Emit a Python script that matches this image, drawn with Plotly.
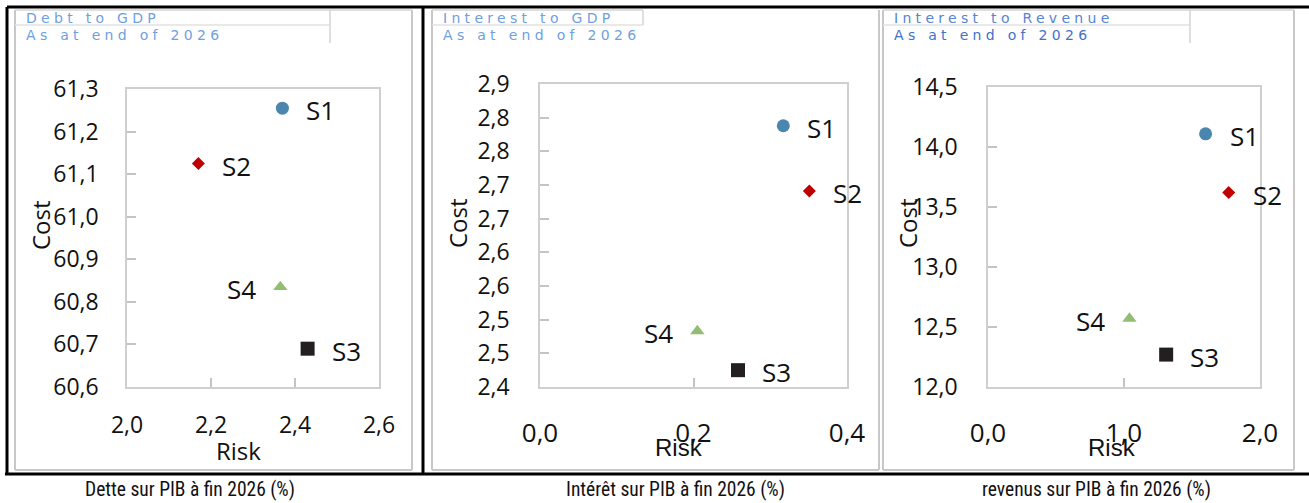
import plotly.graph_objects as go

W, H = 1309, 503

# Scenarios and their markers
scenarios = ["S1", "S2", "S3", "S4"]
symbols = ["circle", "diamond", "square", "triangle-up"]
sizes = [13, 10, 14, 12.5]
colors = ["#4a86ad", "#c00000", "#231f20", "#93bd72"]
label_side = ["right", "right", "right", "left"]

# Debt to GDP
debt_risk = [2.37, 2.17, 2.43, 2.365]
debt_cost = [61.255, 61.125, 60.69, 60.835]
# Interest to GDP
igdp_risk = [0.317, 0.351, 0.258, 0.205]
igdp_cost = [2.788, 2.691, 2.425, 2.483]
# Interest to revenue
irev_risk = [1.60, 1.77, 1.31, 1.04]
irev_cost = [14.11, 13.62, 12.27, 12.57]

# Axis ticks
debt_xticks = [2.0, 2.2, 2.4, 2.6]
debt_xlabels = ["2,0", "2,2", "2,4", "2,6"]
debt_yticks = [60.6, 60.7, 60.8, 60.9, 61.0, 61.1, 61.2, 61.3]
debt_ylabels = ["60,6", "60,7", "60,8", "60,9", "61,0", "61,1", "61,2", "61,3"]

igdp_xticks = [0.0, 0.2, 0.4]
igdp_xlabels = ["0,0", "0,2", "0,4"]
igdp_yticks = [2.40, 2.45, 2.50, 2.55, 2.60, 2.65, 2.70, 2.75, 2.80, 2.85]
igdp_ylabels = ["2,4", "2,5", "2,5", "2,6", "2,6", "2,7", "2,7", "2,8", "2,8", "2,9"]

irev_xticks = [0.0, 1.0, 2.0]
irev_xlabels = ["0,0", "1,0", "2,0"]
irev_yticks = [12.0, 12.5, 13.0, 13.5, 14.0, 14.5]
irev_ylabels = ["12,0", "12,5", "13,0", "13,5", "14,0", "14,5"]

headers = [["Debt to GDP", "As at end of 2026"],
           ["Interest to GDP", "As at end of 2026"],
           ["Interest to Revenue", "As at end of 2026"]]
captions = ["Dette sur PIB à fin 2026 (%)",
            "Intérêt sur PIB à fin 2026 (%)",
            "revenus sur PIB à fin 2026 (%)"]


def px(x):
    return x / W


def py(y):
    return 1 - y / H


FONT = "Open Sans, Noto Sans, sans-serif"
FRAME = "#cfcfcf"

# panel geometry in pixels: plot area left, right, top, bottom
panels = [
    dict(x=debt_risk, y=debt_cost, xr=[2.0, 2.6], yr=[60.6, 61.3],
         xt=debt_xticks, xl=debt_xlabels, yt=debt_yticks, yl=debt_ylabels,
         box=(127, 379, 89, 387), xstand=17, ystand=22, xfs=23),
    dict(x=igdp_risk, y=igdp_cost, xr=[0.0, 0.4], yr=[2.4, 2.85],
         xt=igdp_xticks, xl=igdp_xlabels, yt=igdp_yticks, yl=igdp_ylabels,
         box=(540, 847, 84, 387), xstand=22, ystand=24, xfs=26),
    dict(x=irev_risk, y=irev_cost, xr=[0.0, 2.0], yr=[12.0, 14.5],
         xt=irev_xticks, xl=irev_xlabels, yt=irev_yticks, yl=irev_ylabels,
         box=(988, 1260, 87, 387), xstand=22, ystand=24, xfs=26),
]

fig = go.Figure()
annotations = []
shapes = []

for i, p in enumerate(panels):
    n = "" if i == 0 else str(i + 1)
    xa, ya = "x" + n, "y" + n
    l, r, t, b = p["box"]
    fig.add_trace(go.Scatter(
        x=p["x"], y=p["y"], mode="markers", xaxis=xa, yaxis=ya,
        marker=dict(symbol=symbols, size=sizes, color=colors, opacity=1,
                    line=dict(width=0)),
        showlegend=False, hoverinfo="skip"))
    common = dict(showline=True, linecolor=FRAME, linewidth=1.5, mirror=True,
                  ticks="inside", ticklen=9, tickcolor="#c4c4c4", tickwidth=1.5,
                  showgrid=False, zeroline=False,
                  fixedrange=True, automargin=False)
    fig.update_layout(**{
        "xaxis" + n: dict(domain=[px(l), px(r)], range=p["xr"], anchor=ya,
                          tickvals=p["xt"], ticktext=p["xl"],
                          tickfont=dict(family=FONT, size=p["xfs"], color="#111111"),
                          ticklabelstandoff=p["xstand"], **common),
        "yaxis" + n: dict(domain=[py(b), py(t)], range=p["yr"], anchor=xa,
                          tickvals=p["yt"], ticktext=p["yl"],
                          tickfont=dict(family=FONT, size=23, color="#111111"),
                          ticklabelstandoff=p["ystand"], **common),
    })
    # scenario labels beside each marker
    for k, s in enumerate(scenarios):
        right = label_side[k] == "right"
        annotations.append(dict(
            x=p["x"][k], y=p["y"][k], xref=xa, yref=ya, text=s, showarrow=False,
            xanchor="left" if right else "right", yanchor="middle",
            xshift=22 if right else -22, yshift=-2,
            font=dict(family=FONT, size=26, color="#111111")))

# axis titles
title_font = dict(family=FONT, size=24, color="#111111")
title_font2 = dict(family="Liberation Sans, Arial, sans-serif", size=24, color="#111111")
for cx, cy, f in [(238, 450, title_font), (679, 447, title_font2), (1112, 447, title_font2)]:
    annotations.append(dict(x=px(cx), y=py(cy), xref="paper", yref="paper", text="Risk",
                            showarrow=False, xanchor="center", yanchor="middle", font=f))
for cx, cy, f in [(40, 225, title_font), (457, 223, title_font), (907, 223, title_font)]:
    annotations.append(dict(x=px(cx), y=py(cy), xref="paper", yref="paper", text="Cost",
                            showarrow=False, xanchor="center", yanchor="middle",
                            textangle=-90, font=f))

# bottom captions
cap_font = dict(family="Liberation Sans Narrow, Roboto Condensed, Lato, sans-serif",
                size=19.5, color="#111111")
for cx, c in zip([190, 675, 1096], captions):
    annotations.append(dict(x=px(cx), y=py(489), xref="paper", yref="paper", text=c,
                            showarrow=False, xanchor="center", yanchor="middle", font=cap_font))


def line(x0, y0, x1, y1, color, width):
    shapes.append(dict(type="line", xref="paper", yref="paper",
                       x0=px(x0), y0=py(y0), x1=px(x1), y1=py(y1),
                       line=dict(color=color, width=width)))


# grey panel frames
for (l, r) in [(15, 412), (432, 879), (883, 1294)]:
    line(l, 470, r, 470, "#c8c8c8", 2)
    line(l, 10, l, 470, "#c8c8c8", 2)
line(412, 10, 412, 470, "#c8c8c8", 2)
line(879, 10, 879, 470, "#c8c8c8", 2)
line(1294, 10, 1294, 470, "#c8c8c8", 2)
line(15, 10, 412, 10, "#d4d4d4", 1.5)
line(432, 10, 643, 10, "#d4d4d4", 1.5)
line(883, 10, 1294, 10, "#d4d4d4", 1.5)

# header boxes
hdr = [(15, 330, 43), (432, 643, 25), (883, 1190, 43)]
for (l, r, vb) in hdr:
    line(l, 25, r, 25, "#e2e2e2", 1.5)
    line(r, 10, r, vb, "#d4d4d4", 1.5)

hdr_colors = [("#6f9fe0", "#6f9fe0"), ("#6f9fe0", "#6f9fe0"), ("#5585d0", "#3f72c8")]
for (l, r, vb), (t1, t2), (c1, c2) in zip(hdr, headers, hdr_colors):
    for txt, yy, cc in [(t1, 18, c1), (t2, 35, c2)]:
        annotations.append(dict(
            x=px(l + 9), y=py(yy), xref="paper", yref="paper",
            text='<span style="letter-spacing:4.3px">' + txt + "</span>",
            showarrow=False, xanchor="left", yanchor="middle",
            font=dict(family="DejaVu Sans, sans-serif", size=14, color=cc)))

# black outer borders
line(7, 7, 1309, 7, "#000000", 3)
line(7, 7, 7, 474, "#000000", 3)
line(423, 7, 423, 474, "#000000", 3)
line(5, 474, 1309, 474, "#000000", 3)

fig.update_layout(template="none", width=W, height=H,
                  margin=dict(l=0, r=0, t=0, b=0, pad=0, autoexpand=False),
                  paper_bgcolor="white", plot_bgcolor="white",
                  annotations=annotations, shapes=shapes)

fig.write_html("out.html")
